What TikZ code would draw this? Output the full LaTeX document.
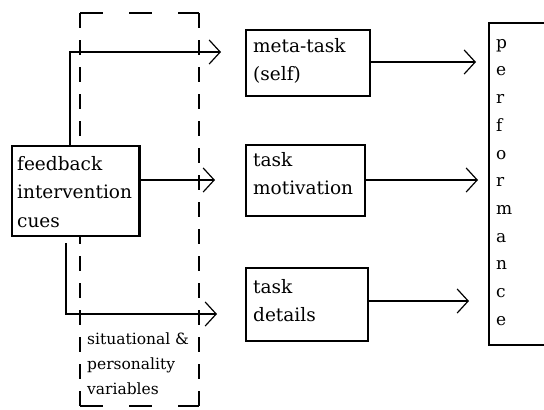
\documentclass[tikz,border=0pt]{standalone}
\usepackage{fontspec}
\setmainfont{DejaVu Serif}
\usetikzlibrary{arrows.meta}
\newcommand{\letragrande}{\fontsize{18.5}{28.5}\selectfont}
\newcommand{\letrachica}{\fontsize{15.5}{25}\selectfont}
\newcommand{\letraperf}{\fontsize{17}{27.7}\selectfont}
\tikzset{
	caja/.style={draw, line width=1.4pt, inner sep=0pt, fill=white},
	texto/.style={anchor=north west, align=left, inner sep=0pt, font=\letragrande},
	flecha/.style={line width=1.4pt, -{Straight Barb[length=11pt, width=24pt, line width=1.2pt]}}
}

\begin{document}
\begin{tikzpicture}[x=1pt, y=-1pt]
		\useasboundingbox (0,0) rectangle (544,410);
		% caja punteada
		\draw[line width=1.4pt, dash pattern=on 23pt off 26pt] (80,13) -- (199,13) (80,406) -- (199,406);
		\draw[line width=1.4pt, dash pattern=on 15pt off 12pt] (80,13) -- (80,406) (199,13) -- (199,406);
		% cajas
		\node[caja, minimum width=128pt, minimum height=90pt] (fb) at (76,191) {};
		\node[caja, minimum width=124pt, minimum height=66pt] (meta) at (308,63) {};
		\node[caja, minimum width=119pt, minimum height=71pt] (motiv) at (305.5,180.5) {};
		\node[caja, minimum width=122pt, minimum height=73pt] (detalle) at (307,304.5) {};
		\node[caja, minimum width=70pt, minimum height=322pt] (perf) at (524,184) {};
		\draw[line width=3pt] ([xshift=-1pt]fb.north east) -- ([xshift=-1pt]fb.south east);
		% textos
		\node[texto] (tfb) at (17,156) {feedback\\intervention\\cues};
		\node[texto] (tmeta) at (253,38) {meta-task\\(self)};
		\node[texto] (tmotiv) at (253,152) {task\\motivation};
		\node[texto] (tdetalle) at (253,279) {task\\details};
		\node[texto, font=\letraperf] (tperf) at (496,39) {p\\e\\r\\f\\o\\r\\m\\a\\n\\c\\e};
		\node[texto, font=\letrachica] (tvar) at (87,333) {situational \&\\personality\\variables};
		% flechas
		\coordinate (f1) at (221,52);
		\coordinate (f2) at (215,180);
		\coordinate (f3) at (217,314);
		\coordinate (s3) at (66,243);
		\draw[flecha] (fb.north -| 70,0) |- (f1);
		\draw[flecha] (fb.east |- f2) -- (f2);
		\draw[flecha] (s3) |- (f3);
		\coordinate (p1) at (476,62);
		\coordinate (p2) at (478,180);
		\coordinate (p3) at (469,301);
		\draw[flecha] (meta.east |- p1) -- (p1);
		\draw[flecha] (motiv.east |- p2) -- (p2);
		\draw[flecha] (detalle.east |- p3) -- (p3);
	\end{tikzpicture}
\end{document}
